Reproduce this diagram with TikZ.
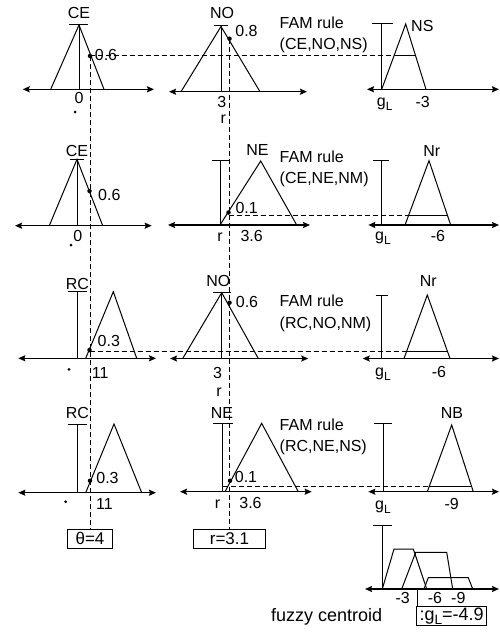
\documentclass[tikz,border=0pt]{standalone}
\usepackage{fontspec}
\setmainfont{Liberation Sans}
\usetikzlibrary{arrows.meta}
\newcommand{\gL}{g\raisebox{-4pt}{\fontsize{12}{12}\selectfont L}}
\newcommand{\gLb}{g\raisebox{-4.5pt}{\fontsize{13.5}{13.5}\selectfont L}}
\begin{document}
\begin{tikzpicture}[x=1pt,y=-1pt,
  txt/.style={font=\fontsize{16}{19}\selectfont, inner sep=0pt, anchor=base},
  fam/.style={txt, anchor=base west},
  mf/.style={line width=1pt, line join=miter},
  thinv/.style={line width=0.7pt},
  axis/.style={line width=1.4pt, {Stealth[length=7pt,width=6pt,inset=1pt]}-{Stealth[length=7pt,width=6pt,inset=1pt]}},
  guide/.style={line width=1pt, dash pattern=on 5pt off 3pt},
  dot/.style={circle, fill, inner sep=0pt, minimum size=4.5pt},
  sdot/.style={circle, fill, inner sep=0pt, minimum size=3pt},
  valbox/.style={draw, line width=1pt, inner sep=0pt, minimum height=19.3pt, font=\fontsize{17}{19}\selectfont}
]
\useasboundingbox (0,0) rectangle (499,634);

% ---------------- Row 1 ----------------
\draw[axis] (22.7,89.3) -- (154,89.3);
\draw[mf] (50.7,89.3) -- (79,25) -- (104,89.3);
\draw[mf] (79,25) -- (79,89.3);
\draw[mf] (69,25) -- (88,25);
\node[txt] (ce1) at (79,18.3) {CE};
\node[txt] (z1) at (79,103) {0};
\node[sdot] (s1) at (75,112) {};
\node[dot] (p1) at (90,56) {};
\node[txt] (v1) at (106,60) {0.6};

\draw[axis] (169,91.7) -- (307,91.7);
\draw[mf] (181,91.7) -- (221,26.5) -- (260,91.7);
\draw[mf] (221,26.5) -- (221,91.7);
\draw[mf] (214,26) -- (228,26);
\node[txt] (no1) at (222,18.3) {NO};
\node[dot] (p2) at (229.5,38.7) {};
\node[txt] (v2) at (246.5,37) {0.8};
\node[txt] (t1) at (221.7,107.7) {3};
\node[txt] (r1) at (223.3,123.3) {r};

\node[fam] (f1a) at (279.5,28.3) {FAM rule};
\node[fam] (f1b) at (279.5,49.3) {(CE,NO,NS)};

\draw[axis] (367,89.3) -- (499,89.3);
\draw[mf] (381.7,24) -- (381.7,89.3);
\draw[mf] (371.7,24) -- (392.7,24);
\draw[mf] (381.7,89.3) -- (405.7,24) -- (426,89.3);
\coordinate (tr1L) at (393.9,56);
\coordinate (tr1R) at (415.6,56);
\draw[mf] (tr1L) -- (tr1R);
\node[fam] (ns1) at (411,31.7) {NS};
\node[txt] (g1) at (384.7,106) {\gL};
\node[txt] (m3a) at (422.7,107) {-3};
\draw[guide] (p1.center) -- (tr1L);

% ---------------- Row 2 ----------------
\draw[axis] (15,225.7) -- (151.7,225.7);
\draw[mf] (49.3,225.7) -- (77,159.3) -- (102.7,225.7);
\draw[thinv] (77,159.3) -- (77,225.7);
\draw[mf] (70,159) -- (84,159);
\node[txt] (ce2) at (77,156) {CE};
\node[dot] (p3) at (89.5,191) {};
\node[txt] (v3) at (109.3,200.7) {0.6};
\node[txt] (z2) at (77.7,241) {0};
\node[sdot] (s2) at (71,245) {};

\draw[axis] (168,225) -- (310,225);
\draw[mf] (220,160) -- (220,225);
\draw[mf] (212,160) -- (229,160);
\draw[mf] (220,225) -- (260.7,161) -- (296.7,225);
\node[txt] (ne2) at (257.5,155) {NE};
\node[dot] (p4) at (228.5,212.5) {};
\node[txt] (v4) at (246.7,213.5) {0.1};
\node[txt] (r2) at (220,241) {r};
\node[txt] (t2) at (251.7,241) {3.6};

\node[fam] (f2a) at (279.5,162.3) {FAM rule};
\node[fam] (f2b) at (279.5,183.3) {(CE,NE,NM)};

\draw[axis] (368.3,225) -- (499,225);
\draw[mf] (381,160) -- (381,225);
\draw[mf] (373,160) -- (389,160);
\draw[mf] (405,225) -- (429,160.7) -- (450.7,225);
\coordinate (tr2L) at (408.6,215.5);
\coordinate (tr2R) at (447.5,215.5);
\draw[mf] (tr2L) -- (tr2R);
\node[txt] (nr2) at (431.7,156) {Nr};
\node[txt] (g2) at (383,240) {\gL};
\node[txt] (m6a) at (438,241.5) {-6};
\draw[guide] (p4.center |- tr2L) -- (tr2L);

% ---------------- Row 3 ----------------
\draw[axis] (18.3,358.3) -- (156,358.3);
\draw[mf] (77,291.7) -- (77,358.3);
\draw[mf] (67.7,291.7) -- (87.3,291.7);
\node[txt] (rc3) at (77.5,289.3) {RC};
\draw[mf] (85.7,358.3) -- (113.3,291.7) -- (136.7,358.3);
\node[dot] (p5) at (89.5,350) {};
\node[txt] (v5) at (108.8,346) {0.3};
\node[txt] (e3) at (100.3,378.3) {11};
\node[sdot] (s3) at (69,369.3) {};

\draw[axis] (170,358.5) -- (308.3,358.5);
\draw[mf] (182.7,358.5) -- (221.7,292.7) -- (258.3,358.5);
\draw[mf] (221.7,292.7) -- (221.7,358.5);
\draw[mf] (212.5,292) -- (230.5,292);
\node[txt] (no3) at (218.3,286) {NO};
\node[dot] (p6) at (229.5,302.7) {};
\node[txt] (v6) at (247,307.7) {0.6};
\node[txt] (t3) at (217.5,378.3) {3};
\node[txt] (r3) at (219,396.7) {r};

\node[fam] (f3a) at (279.5,306.7) {FAM rule};
\node[fam] (f3b) at (279.5,328.3) {(RC,NO,NM)};

\draw[axis] (362.7,358.5) -- (499,358.5);
\draw[mf] (381.7,295) -- (381.7,358.5);
\draw[mf] (375.7,295) -- (388,295);
\draw[mf] (404,358.5) -- (427.3,295) -- (450,358.5);
\coordinate (tr3L) at (406.8,351);
\coordinate (tr3R) at (447.3,351);
\draw[mf] (tr3L) -- (tr3R);
\node[txt] (nr3) at (428.3,286.7) {Nr};
\node[txt] (g3) at (383,376.7) {\gL};
\node[txt] (m6b) at (439,377.3) {-6};
\draw[guide] (p5.center |- tr3L) -- (tr3L);

% ---------------- Row 4 ----------------
\draw[axis] (18.3,492.7) -- (156,492.7);
\draw[mf] (77,424) -- (77,492.7);
\draw[mf] (67.7,424) -- (87.3,424);
\node[txt] (rc4) at (77.5,418.3) {RC};
\draw[mf] (85.7,492.7) -- (114,424) -- (141.7,492.7);
\node[dot] (p7) at (90,480.7) {};
\node[txt] (v7) at (107.5,483.3) {0.3};
\node[txt] (e4) at (104.5,509) {11};
\node[sdot] (s4) at (65.7,501.7) {};

\draw[axis] (180,491.7) -- (311.7,491.7);
\draw[mf] (222.7,423.3) -- (222.7,491.7);
\draw[mf] (212.5,423.3) -- (232.5,423.3);
\node[txt] (ne4) at (222,418.3) {NE};
\draw[mf] (225,491.7) -- (261.7,423.3) -- (298.3,491.7);
\node[dot] (p8) at (230,480.7) {};
\node[txt] (v8) at (246,482.7) {0.1};
\node[txt] (r4) at (217.5,508.3) {r};
\node[txt] (t4) at (250.5,508.3) {3.6};

\node[fam] (f4a) at (279.5,430) {FAM rule};
\node[fam] (f4b) at (279.5,451.7) {(RC,NE,NS)};

\draw[axis] (368.3,491.7) -- (499,491.7);
\draw[mf] (383.3,423.3) -- (383.3,491.7);
\draw[mf] (374,423.3) -- (392.3,423.3);
\draw[mf] (427.3,491.7) -- (451.7,425) -- (473.3,491.7);
\coordinate (tr4L) at (429.1,486.7);
\coordinate (tr4R) at (471.7,486.7);
\draw[mf] (tr4L) -- (tr4R);
\node[txt] (nb4) at (452,418.3) {NB};
\node[txt] (g4) at (383,509.3) {\gL};
\node[txt] (m9a) at (451.7,509.3) {-9};
\coordinate (d4) at (223,486.7);
\draw[guide] (d4) -- (tr4L);

% ---------------- Result boxes ----------------
\node[valbox, minimum width=45.6pt] (theta) at (90,538.7) {θ=4};
\node[valbox, minimum width=72.7pt] (rbox) at (229.5,538.7) {r=3.1};
\draw[guide] (p1.center) -- (theta.north);
\draw[guide] (p2.center) -- (rbox.north);

% ---------------- Aggregate ----------------
\draw[axis] (365,589) -- (499,589);
\draw[mf] (382.3,525) -- (382.3,589);
\draw[mf] (373.3,525) -- (391.7,525);
\draw[mf] (382.3,589) -- (394,549) -- (413.3,549) -- (426.7,589);
\draw[mf] (401.7,589) -- (415.7,552.3) -- (446.7,552.3) -- (452.7,589);
\draw[mf] (424,589) -- (428.3,577.7) -- (468.3,577.7) -- (472.7,589);
\node[txt] (a3) at (402.7,603.3) {-3};
\node[txt] (a6) at (435,603.3) {-6};
\node[txt] (a9) at (458.3,603.3) {-9};
\coordinate (cg) at (417.5,589);
\node[valbox, anchor=north west, inner xsep=3pt, font=\fontsize{18}{20}\selectfont] (cent) at (416,606) {:\gLb=-4.9};
\draw[mf] (cg) -- (cg |- cent.north);
\node[txt, anchor=base west, font=\fontsize{18}{20}\selectfont] (fc) at (271,621) {fuzzy centroid};
\end{tikzpicture}
\end{document}
